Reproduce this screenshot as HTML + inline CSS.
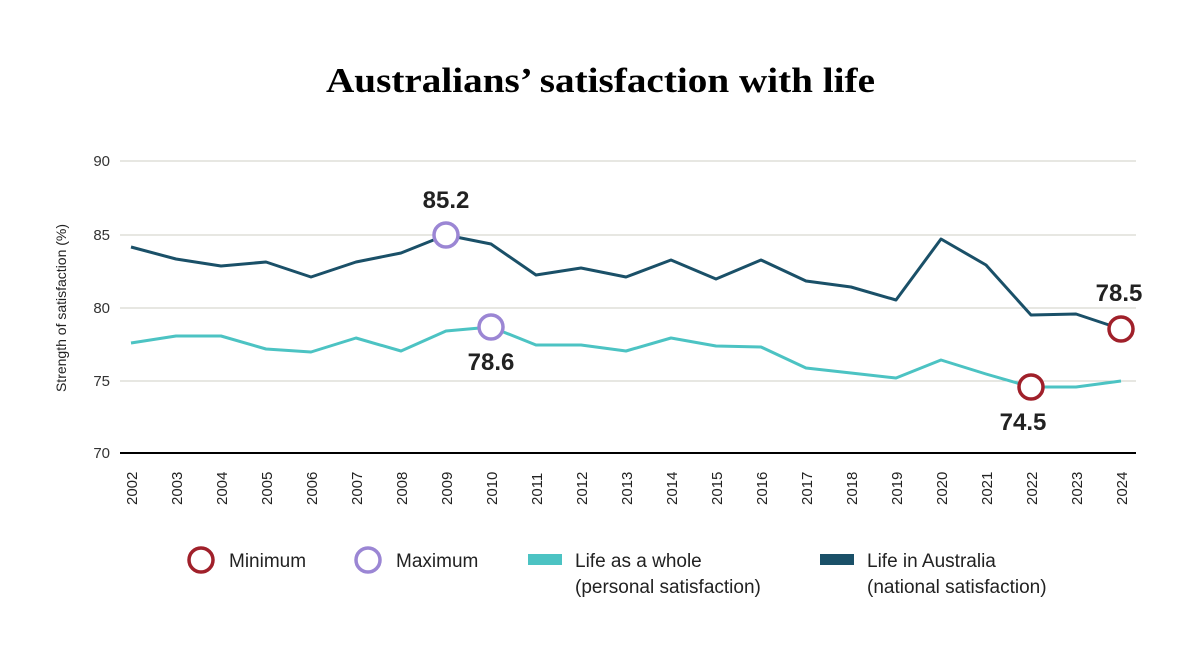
<!DOCTYPE html>
<html><head><meta charset="utf-8"><style>
body{margin:0;background:#fff;}
svg{display:block;font-family:"Liberation Sans",sans-serif;}
</style></head><body>
<svg width="1200" height="650" viewBox="0 0 1200 650">
<rect width="1200" height="650" fill="#fff"/>
<text x="326" y="92" textLength="549" lengthAdjust="spacingAndGlyphs" font-family="Liberation Serif,serif" font-weight="bold" font-size="35" fill="#000">Australians’ satisfaction with life</text>
<g stroke="#cfcfc4" stroke-width="1">
<line x1="120" y1="161" x2="1136" y2="161"/>
<line x1="120" y1="235" x2="1136" y2="235"/>
<line x1="120" y1="308" x2="1136" y2="308"/>
<line x1="120" y1="381" x2="1136" y2="381"/>
</g>
<line x1="120" y1="453" x2="1136" y2="453" stroke="#000" stroke-width="2"/>
<g font-size="15" fill="#333" text-anchor="end">
<text x="110" y="166">90</text><text x="110" y="240">85</text><text x="110" y="313">80</text><text x="110" y="386">75</text><text x="110" y="458">70</text>
</g>
<text transform="translate(66,308) rotate(-90)" text-anchor="middle" font-size="14" fill="#222">Strength of satisfaction (%)</text>
<polyline fill="none" stroke="#1a5068" stroke-width="3" stroke-linejoin="round" points="131,247 176,259 221,266 266,262 311,277 356,262 401,253 446,235 491,244 536,275 581,268 626,277 671,260 716,279 761,260 806,281 851,287 896,300 941,239 986,265 1031,315 1076,314 1121,329"/>
<polyline fill="none" stroke="#4cc3c3" stroke-width="3" stroke-linejoin="round" points="131,343 176,336 221,336 266,349 311,352 356,338 401,351 446,331 491,327 536,345 581,345 626,351 671,338 716,346 761,347 806,368 851,373 896,378 941,360 986,374 1031,387 1076,387 1121,381"/>
<g fill="#fff" stroke-width="3.5">
<circle cx="446" cy="235" r="12" stroke="#9b86d4"/>
<circle cx="491" cy="327" r="12" stroke="#9b86d4"/>
<circle cx="1031" cy="387" r="12" stroke="#a0202a"/>
<circle cx="1121" cy="329" r="12" stroke="#a0202a"/>
</g>
<g font-size="24" font-weight="bold" fill="#222" text-anchor="middle">
<text x="446" y="208">85.2</text>
<text x="491" y="370">78.6</text>
<text x="1023" y="430">74.5</text>
<text x="1119" y="301">78.5</text>
</g>
<g font-size="19" fill="#222">
<circle cx="201" cy="560" r="12" fill="#fff" stroke="#a0202a" stroke-width="3.5"/>
<text x="229" y="567">Minimum</text>
<circle cx="368" cy="560" r="12" fill="#fff" stroke="#9b86d4" stroke-width="3.5"/>
<text x="396" y="567">Maximum</text>
<rect x="528" y="554" width="34" height="11" fill="#4cc3c3"/>
<text x="575" y="567">Life as a whole</text>
<text x="575" y="593">(personal satisfaction)</text>
<rect x="820" y="554" width="34" height="11" fill="#1a5068"/>
<text x="867" y="567">Life in Australia</text>
<text x="867" y="593">(national satisfaction)</text>
</g>
<g font-size="15" fill="#222">
<text transform="translate(137,505) rotate(-90)">2002</text>
<text transform="translate(182,505) rotate(-90)">2003</text>
<text transform="translate(227,505) rotate(-90)">2004</text>
<text transform="translate(272,505) rotate(-90)">2005</text>
<text transform="translate(317,505) rotate(-90)">2006</text>
<text transform="translate(362,505) rotate(-90)">2007</text>
<text transform="translate(407,505) rotate(-90)">2008</text>
<text transform="translate(452,505) rotate(-90)">2009</text>
<text transform="translate(497,505) rotate(-90)">2010</text>
<text transform="translate(542,505) rotate(-90)">2011</text>
<text transform="translate(587,505) rotate(-90)">2012</text>
<text transform="translate(632,505) rotate(-90)">2013</text>
<text transform="translate(677,505) rotate(-90)">2014</text>
<text transform="translate(722,505) rotate(-90)">2015</text>
<text transform="translate(767,505) rotate(-90)">2016</text>
<text transform="translate(812,505) rotate(-90)">2017</text>
<text transform="translate(857,505) rotate(-90)">2018</text>
<text transform="translate(902,505) rotate(-90)">2019</text>
<text transform="translate(947,505) rotate(-90)">2020</text>
<text transform="translate(992,505) rotate(-90)">2021</text>
<text transform="translate(1037,505) rotate(-90)">2022</text>
<text transform="translate(1082,505) rotate(-90)">2023</text>
<text transform="translate(1127,505) rotate(-90)">2024</text>
</g>
</svg>
</body></html>
